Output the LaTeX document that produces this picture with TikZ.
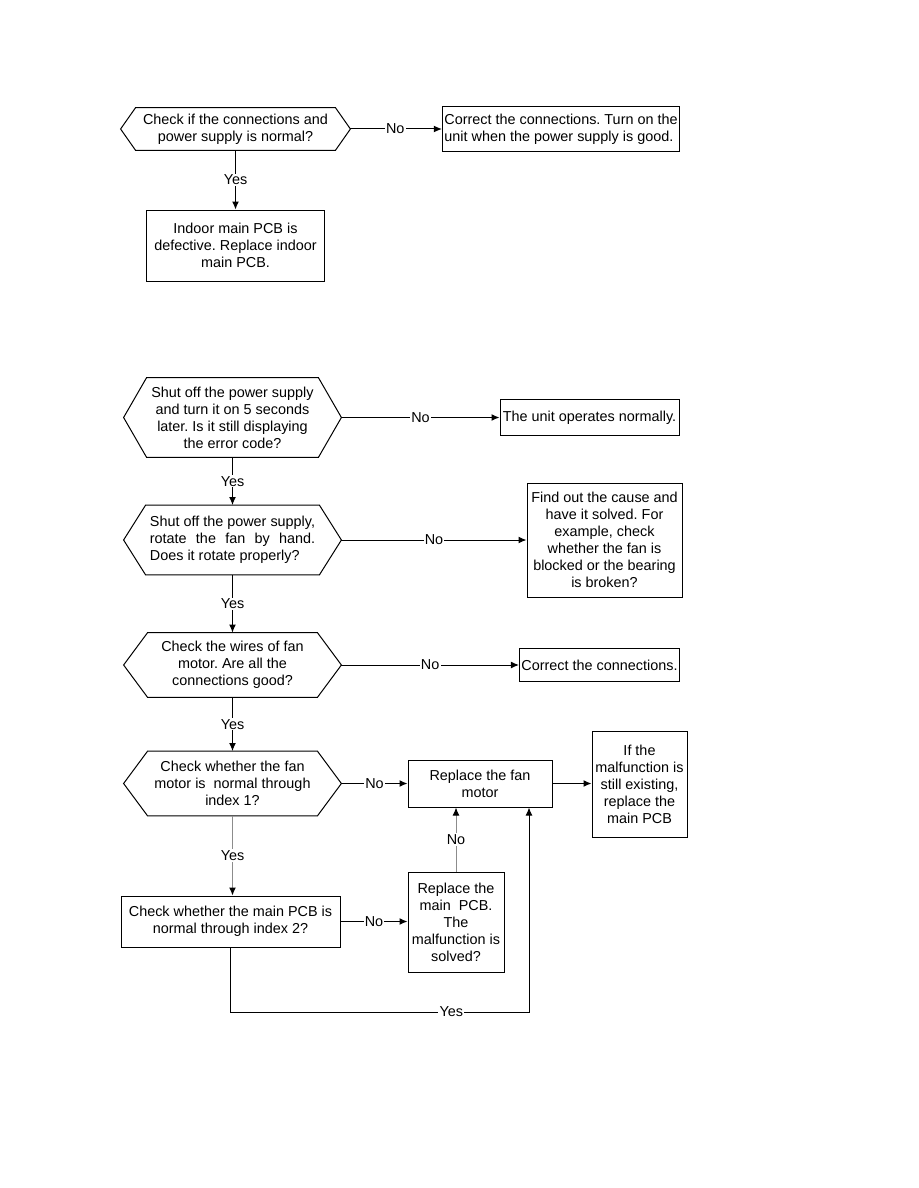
\documentclass[tikz,border=0pt]{standalone}
\usepackage{fontspec}
\usepackage{calc}
\setmainfont{Liberation Sans}
\usetikzlibrary{arrows.meta,calc}
\newcommand{\flowfont}{\fontsize{7.2}{8.5}\selectfont\frenchspacing}

\begin{document}
\begin{tikzpicture}[x=0.5pt,y=-0.5pt,
    base/.style={font=\flowfont,align=center,inner sep=1pt},
    block/.style={base,draw,line width=0.5pt},
    hexa/.style={base,append after command={\pgfextra{\draw[line width=0.5pt]
        (\tikzlastnode.west) -- ([xshift=#1]\tikzlastnode.north west)
        -- ([xshift=-#1]\tikzlastnode.north east) -- (\tikzlastnode.east)
        -- ([xshift=-#1]\tikzlastnode.south east)
        -- ([xshift=#1]\tikzlastnode.south west) -- cycle;}}},
    flow/.style={-{Latex[length=4pt,width=3.4pt]},line width=0.5pt},
    faint/.style={-{Latex[length=4pt,width=3.4pt,color=black]},line width=0.5pt,draw=black!45},
    tag/.style={font=\flowfont,fill=white,inner sep=0.6pt}]
    \useasboundingbox (0,0) rectangle (918,1188);
    % first chart
    \node[hexa=7.5pt,minimum width=114.5pt,minimum height=21pt] (chk1) at (235.5,129) {Check if the connections and\\power supply is normal?};
    \node[block,align=left,minimum width=118pt,minimum height=22.5pt] (fix1) at (561,129) {Correct the connections. Turn on the\\unit when the power supply is good.};
    \node[block,minimum width=89pt,minimum height=35.5pt] (pcb1) at (235.5,245.5) {Indoor main PCB is\\defective. Replace indoor\\main PCB.};
    \draw[flow] (chk1.east) -- node[tag,pos=0.49] {No} (fix1.west);
    \draw[flow] (chk1.south) -- node[tag] {Yes} (pcb1.north);

    % second chart
    \node[hexa=11.5pt,minimum width=108.5pt,minimum height=39.5pt] (hexA) at (232.5,417.5) {Shut off the power supply\\and turn it on 5 seconds\\later. Is it still displaying\\the error code?};
    \node[block,minimum width=89.5pt,minimum height=18pt] (okbox) at (589.5,417.5) {The unit operates normally.};
    \node[hexa=11pt,minimum width=108.5pt,minimum height=34.5pt] (hexB) at (232.5,540) {\makebox[\widthof{Shut off the power supply,}][l]{Shut off the power supply,}\\\makebox[\widthof{Shut off the power supply,}][s]{rotate the fan by hand.}\\\makebox[\widthof{Shut off the power supply,}][l]{Does it rotate properly?}};
    \node[block,minimum width=77.5pt,minimum height=57pt] (findbox) at (604.5,540) {Find out the cause and\\have it solved. For\\example, check\\whether the fan is\\blocked or the bearing\\is broken?};
    \node[hexa=12pt,minimum width=108.5pt,minimum height=32pt] (hexC) at (232.5,665) {Check the wires of fan\\motor. Are all the\\connections good?};
    \node[block,minimum width=79.5pt,minimum height=16.5pt] (connbox) at (599.5,665) {Correct the connections.};
    \node[hexa=12pt,minimum width=108.5pt,minimum height=32pt] (hexD) at (232.5,783.5) {Check whether the fan\\motor is\ \ normal through\\index 1?};
    \node[block,minimum width=72pt,minimum height=23.5pt] (fanbox) at (480,783.5) {Replace the fan\\motor};
    \node[block,minimum width=47.5pt,minimum height=53pt] (ifbox) at (639.5,784) {If the\\malfunction is\\still existing,\\replace the\\main PCB};
    \node[block,minimum width=109.5pt,minimum height=25.5pt] (pcbchk) at (230.5,921.5) {Check whether the main PCB is\\normal through index 2?};
    \node[block,minimum width=48pt,minimum height=50pt] (solvebox) at (456,922) {Replace the\\main\ \ PCB.\\The\\malfunction is\\solved?};
    \coordinate (loopR) at (529,1012);

    \draw[flow] (hexA.east) -- node[tag] {No} (okbox.west);
    \draw[flow] (hexA.south) -- node[tag] {Yes} (hexB.north);
    \draw[flow] (hexB.east) -- node[tag] {No} (findbox.west);
    \draw[flow] (hexB.south) -- node[tag] {Yes} (hexC.north);
    \draw[flow] (hexC.east) -- node[tag] {No} (connbox.west);
    \draw[flow] (hexC.south) -- node[tag] {Yes} (hexD.north);
    \draw[flow] (hexD.east) -- node[tag] {No} (fanbox.west);
    \draw[flow] (fanbox.east) -- (fanbox.east -| ifbox.west);
    \draw[faint] (hexD.south) -- node[tag,text=black] {Yes} (hexD.south |- pcbchk.north);
    \draw[flow] (pcbchk.east) -- node[tag] {No} (pcbchk.east -| solvebox.west);
    \draw[faint] (solvebox.north) -- node[tag,text=black] {No} (solvebox.north |- fanbox.south);
    \draw[flow] (pcbchk.south) |- node[tag,pos=0.87] {Yes} (loopR) -- (fanbox.south -| loopR);
  \end{tikzpicture}
\end{document}
